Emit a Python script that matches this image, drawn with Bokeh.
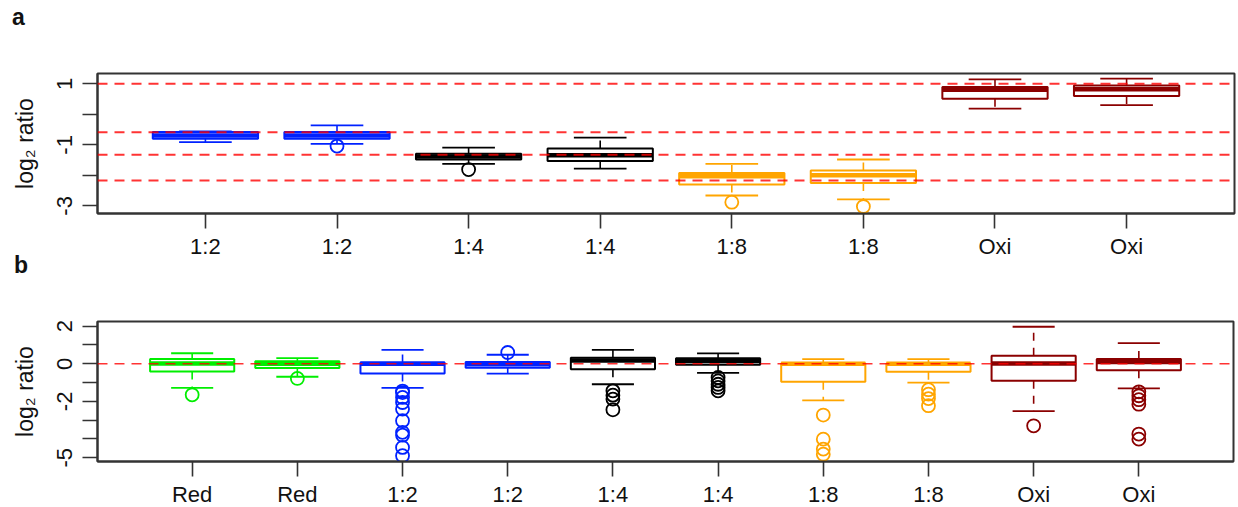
from bokeh.plotting import figure
from bokeh.layouts import column
from bokeh.models import ColumnDataSource, FixedTicker, Span, Range1d, Div
from bokeh.embed import file_html
from bokeh.resources import INLINE

# ---------------- data: panel a ----------------
labels_a = ["1:2", "1:2", "1:4", "1:4", "1:8", "1:8", "Oxi", "Oxi"]
colors_a = ["#0022ff", "#0022ff", "#000000", "#000000", "#ffa500", "#ffa500", "#8b0000", "#8b0000"]
low_a = [-0.91, -0.97, -1.62, -1.78, -2.66, -2.79, 0.19, 0.30]
q1_a = [-0.80, -0.80, -1.48, -1.53, -2.30, -2.25, 0.51, 0.60]
med_a = [-0.69, -0.69, -1.38, -1.34, -2.03, -2.00, 0.81, 0.82]
q3_a = [-0.58, -0.58, -1.29, -1.12, -1.92, -1.84, 0.90, 0.95]
high_a = [-0.56, -0.36, -1.09, -0.76, -1.62, -1.48, 1.15, 1.17]
out_a = [[], [-1.04], [-1.81], [], [-2.88], [-3.02], [], []]
ref_a = [1.0, -0.585, -1.32, -2.17]
yticks_a = [1, 0, -1, -2, -3]
ytick_labels_a = ["1", "", "-1", "", "-3"]

# ---------------- data: panel b ----------------
labels_b = ["Red", "Red", "1:2", "1:2", "1:4", "1:4", "1:8", "1:8", "Oxi", "Oxi"]
colors_b = ["#00ee00", "#00ee00", "#0022ff", "#0022ff", "#000000", "#000000",
            "#ffa500", "#ffa500", "#8b0000", "#8b0000"]
low_b = [-1.28, -0.69, -1.28, -0.52, -1.09, -0.48, -1.95, -1.00, -2.52, -1.31]
q1_b = [-0.41, -0.23, -0.52, -0.21, -0.29, -0.05, -0.96, -0.43, -0.90, -0.34]
med_b = [0.02, 0.00, 0.00, -0.02, 0.18, 0.15, 0.00, 0.00, 0.02, 0.10]
q3_b = [0.25, 0.14, 0.07, 0.10, 0.32, 0.30, 0.03, 0.02, 0.43, 0.25]
high_b = [0.56, 0.30, 0.74, 0.48, 0.74, 0.55, 0.25, 0.25, 1.97, 1.10]
out_b = [[-1.65], [-0.78],
         [-1.45, -1.53, -1.79, -2.06, -2.41, -3.03, -3.65, -3.80, -4.45, -4.89],
         [0.60], [-1.44, -1.67, -1.88, -2.45], [-0.73, -0.91, -1.09, -1.26, -1.44],
         [-2.73, -4.01, -4.54, -4.81], [-1.38, -1.62, -1.85, -2.23],
         [-3.30], [-1.49, -1.70, -1.91, -2.15, -3.74, -4.01]]
ref_b = [0.0]
yticks_b = [2, 1, 0, -1, -2, -3, -4, -5]
ytick_labels_b = ["2", "", "0", "", "-2", "", "", "-5"]

FONT = "Liberation Sans"
AXC = "#333333"


def panel(labels, colors, low, q1, med, q3, high, outs, refs, yticks, ylabels,
          xr, yr, fw, fh, bl, br, bt, bb, ref_w):
    n = len(labels)
    xs = list(range(1, n + 1))
    p = figure(frame_width=fw, frame_height=fh, min_border_left=bl, min_border_right=br,
               min_border_top=bt, min_border_bottom=bb, output_backend="svg",
               toolbar_location=None, x_range=Range1d(*xr), y_range=Range1d(*yr))
    p.xgrid.visible = False
    p.ygrid.visible = False
    p.background_fill_color = "white"
    p.border_fill_color = "white"
    p.outline_line_color = AXC
    p.outline_line_width = 2

    src = ColumnDataSource(dict(
        x=xs, low=low, q1=q1, med=med, q3=q3, high=high, color=colors,
        xl=[x - 0.4 for x in xs], xr=[x + 0.4 for x in xs],
        cl=[x - 0.2 for x in xs], cr=[x + 0.2 for x in xs]))
    # whiskers (dashed)
    p.segment(x0="x", y0="q3", x1="x", y1="high", line_color="color", line_width=1.6,
              line_dash="8 7", source=src)
    p.segment(x0="x", y0="q1", x1="x", y1="low", line_color="color", line_width=1.6,
              line_dash="8 7", source=src)
    # staples
    p.segment(x0="cl", y0="high", x1="cr", y1="high", line_color="color", line_width=1.8, source=src)
    p.segment(x0="cl", y0="low", x1="cr", y1="low", line_color="color", line_width=1.8, source=src)
    # boxes
    p.vbar(x="x", width=0.8, top="q3", bottom="q1", fill_color=None, line_color="color",
           line_width=2, source=src)
    # medians
    p.segment(x0="xl", y0="med", x1="xr", y1="med", line_color="color", line_width=4.5,
              line_cap="butt", source=src)
    # outliers
    ox, oy, oc = [], [], []
    for x, vals, c in zip(xs, outs, colors):
        for v in vals:
            ox.append(x)
            oy.append(v)
            oc.append(c)
    p.scatter(x=ox, y=oy, marker="circle", size=13, fill_color=None, line_color=oc, line_width=1.8)

    for r in refs:
        p.add_layout(Span(location=r, dimension="width", line_color="red", line_alpha=0.8,
                          line_width=ref_w, line_dash="10 7"))

    for ax in (p.xaxis[0], p.yaxis[0]):
        ax.axis_line_color = AXC
        ax.axis_line_width = 2
        ax.major_tick_line_color = AXC
        ax.major_tick_line_width = 1.6
        ax.major_tick_out = 15
        ax.major_tick_in = 0
        ax.minor_tick_line_color = None
        ax.major_label_text_font = FONT
        ax.major_label_text_font_size = "22px"
        ax.major_label_text_color = "#111111"

    p.xaxis.ticker = FixedTicker(ticks=xs)
    p.xaxis.major_label_overrides = {x: l for x, l in zip(xs, labels)}
    p.xaxis.major_label_standoff = 5

    p.yaxis.ticker = FixedTicker(ticks=yticks)
    p.yaxis.major_label_overrides = {t: l for t, l in zip(yticks, ylabels)}
    p.yaxis.major_label_orientation = "vertical"
    p.yaxis.major_label_standoff = 10
    p.yaxis.axis_label = "log\u2082 ratio"
    p.yaxis.axis_label_text_font = FONT
    p.yaxis.axis_label_text_font_size = "23px"
    p.yaxis.axis_label_text_font_style = "normal"
    p.yaxis.axis_label_text_color = "#111111"
    p.yaxis.axis_label_standoff = 17
    return p


def letter_div(letter, height, pad_top, pad_left, line_h):
    html = ('<div style="font-family: \'Liberation Sans\', Arial, sans-serif; font-size: 23px; '
            f'font-weight: bold; line-height: {line_h}px; color: #111111; overflow: visible; '
            f'padding-top: {pad_top}px; padding-left: {pad_left}px; margin: 0;">{letter}</div>')
    return Div(text=html, width=1238, height=height, margin=0, styles={"overflow": "visible"})


pa = panel(labels_a, colors_a, low_a, q1_a, med_a, q3_a, high_a, out_a, ref_a,
           yticks_a, ytick_labels_a, (0.18, 8.82), (-3.25, 1.34), 1137, 140, 93, 8, 43, 46, 2)
pb = panel(labels_b, colors_b, low_b, q1_b, med_b, q3_b, high_b, out_b, ref_b,
           yticks_b, ytick_labels_b, (0.1, 10.9), (-5.2, 2.25), 1136, 140, 97, 5, 45, 48, 1.6)

layout = column(letter_div("a", 30, 10, 12, 14), pa, letter_div("b", 15, 0, 14, 8), pb, spacing=0)
open("out.html", "w").write(file_html(layout, INLINE))
